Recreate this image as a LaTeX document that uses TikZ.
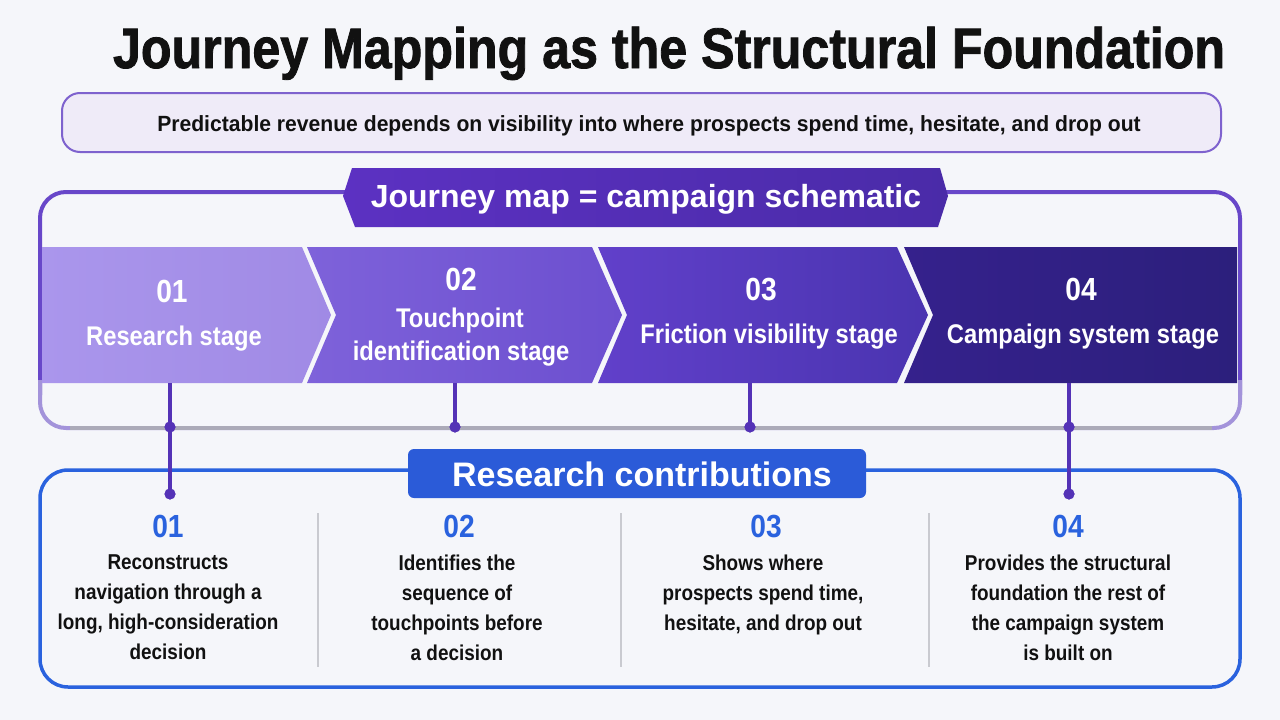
\documentclass[tikz,border=0pt]{standalone}
\usepackage{fontspec}
\setmainfont{Liberation Sans}[FakeStretch=0.88]
\newfontfamily\titlef{Liberation Sans}[FakeStretch=0.88, FakeBold=1.4]
\newfontfamily\subf{Liberation Sans}[FakeStretch=0.96]
\newfontfamily\widef{Liberation Sans}[FakeStretch=1.0]
\newfontfamily\chevf{Liberation Sans}[FakeStretch=0.88]
\definecolor{bg}{HTML}{F5F6FA}
\definecolor{titlec}{HTML}{111111}
\definecolor{subfill}{HTML}{EFEBF8}
\definecolor{subdraw}{HTML}{7E62CE}
\definecolor{framep}{HTML}{6847C9}
\definecolor{framel}{HTML}{A393DA}
\definecolor{frameg}{HTML}{ABAAB8}
\definecolor{badgeL}{HTML}{5C31C2}
\definecolor{badgeR}{HTML}{4A2BA8}
\definecolor{chA1}{HTML}{AA96EC}
\definecolor{chA2}{HTML}{A08AE5}
\definecolor{chB1}{HTML}{7E62DA}
\definecolor{chB2}{HTML}{6C4FCF}
\definecolor{chC1}{HTML}{6140CA}
\definecolor{chC2}{HTML}{4A34B0}
\definecolor{chD1}{HTML}{35218C}
\definecolor{chD2}{HTML}{2C1F7C}
\definecolor{conn}{HTML}{5432B6}
\definecolor{blue}{HTML}{2A62DE}
\definecolor{blueb}{HTML}{2B5BD8}
\definecolor{sep}{HTML}{C9CAD0}
\definecolor{bodyc}{HTML}{111111}
\tikzset{
  chevtext/.style={text=white, font=\chevf\bfseries\fontsize{27}{31}\selectfont, align=center, inner sep=0},
  chevnum/.style={text=white, font=\chevf\bfseries\fontsize{32}{34}\selectfont, inner sep=0},
  bluenum/.style={text=blue, font=\chevf\bfseries\fontsize{32}{34}\selectfont, inner sep=0},
  bodytext/.style={text=bodyc, font=\bfseries\fontsize{21.5}{30}\selectfont, align=center, inner sep=0, anchor=north},
  connline/.style={draw=conn, line width=3.2},
  dot/.style={circle, fill=conn, inner sep=0, minimum size=11},
  seprule/.style={draw=sep, line width=1.6},
}
\begin{document}
\begin{tikzpicture}[x=1pt,y=-1pt]
\useasboundingbox (0,0) rectangle (1280,720);
\fill[bg] (0,0) rectangle (1280,720);

% title
\node[anchor=base, text=titlec, inner sep=0, font=\titlef\bfseries\fontsize{57}{60}\selectfont] (title) at (669,68) {Journey Mapping as the Structural Foundation};

% subtitle box
\draw[fill=subfill, draw=subdraw, line width=2, rounded corners=18] (62,93) rectangle (1221,152);
\node[anchor=base, inner sep=0, text=bodyc, font=\subf\bfseries\fontsize{22}{24}\selectfont] (sub) at (649,131) {Predictable revenue depends on visibility into where prospects spend time, hesitate, and drop out};

% purple frame
\draw[draw=framep, line width=4, rounded corners=26] (40,395) -- (40,192) -- (1240,192) -- (1240,395);
\draw[draw=framel, line width=4, rounded corners=26] (40,380) -- (40,428) -- (1240,428) -- (1240,380);
\draw[draw=frameg, line width=4] (70,428) -- (1212,428);

% chevrons
\path[left color=chA1, right color=chA2] (42,247) -- (302,247) -- (331,315) -- (302,383) -- (42,383) -- cycle;
\path[left color=chB1, right color=chB2] (307,247) -- (592,247) -- (622,315) -- (592,383) -- (307,383) -- (336,315) -- cycle;
\path[left color=chC1, right color=chC2] (598,247) -- (897,247) -- (928,315) -- (897,383) -- (598,383) -- (627,315) -- cycle;
\path[left color=chD1, right color=chD2] (904,247) -- (1237,247) -- (1237,383) -- (904,383) -- (933,315) -- cycle;

% badge on frame
\path[left color=badgeL, right color=badgeR] (352,168) -- (940,168) -- (948,196) -- (938,227) -- (355,227) -- (343,196) -- cycle;
\node[anchor=base, text=white, inner sep=0, font=\widef\bfseries\fontsize{32}{34}\selectfont] (badge) at (646,207) {Journey map = campaign schematic};

% chevron texts
\node[chevnum, anchor=base] (n1) at (172,302) {01};
\node[chevtext, anchor=base] (s1) at (174,345) {Research stage};
\node[chevnum, anchor=base] (n2) at (461,290) {02};
\node[chevtext, anchor=base] (s2a) at (460,327) {Touchpoint};
\node[chevtext, anchor=base] (s2b) at (461,360) {identification stage};
\node[chevnum, anchor=base] (n3) at (761,300) {03};
\node[chevtext, anchor=base] (s3) at (769,343) {Friction visibility stage};
\node[chevnum, anchor=base] (n4) at (1081,300) {04};
\node[chevtext, anchor=base] (s4) at (1083,343) {Campaign system stage};

% blue box
\draw[draw=blue, line width=3.5, rounded corners=28, fill=bg] (40,470) rectangle (1240,687);
\draw[fill=blueb, draw=none, rounded corners=6] (408,449) rectangle (866,498);
\node[anchor=base, text=white, inner sep=0, font=\widef\bfseries\fontsize{34}{36}\selectfont] (rc) at (642,486) {Research contributions};

% connectors
\coordinate (c1) at (170,383); \coordinate (c2) at (455,383);
\coordinate (c3) at (750,383); \coordinate (c4) at (1069,383);
\node[dot] (d1) at (170,427) {}; \node[dot] (d2) at (455,427) {};
\node[dot] (d3) at (750,427) {}; \node[dot] (d4) at (1069,427) {};
\node[dot] (e1) at (170,494) {}; \node[dot] (e4) at (1069,494) {};
\draw[connline] (c1) -- (d1.center); \draw[connline] (d1.center) -- (e1.center);
\draw[connline] (c2) -- (d2.center);
\draw[connline] (c3) -- (d3.center);
\draw[connline] (c4) -- (d4.center); \draw[connline] (d4.center) -- (e4.center);
\fill[conn] (d1) circle (5.5); \fill[conn] (d2) circle (5.5);
\fill[conn] (d3) circle (5.5); \fill[conn] (d4) circle (5.5);
\fill[conn] (e1) circle (5.5); \fill[conn] (e4) circle (5.5);

% separators
\coordinate (p1t) at (318,513); \coordinate (p1b) at (318,667);
\coordinate (p2t) at (621,513); \coordinate (p2b) at (621,667);
\coordinate (p3t) at (929,513); \coordinate (p3b) at (929,667);
\draw[seprule] (p1t) -- (p1b);
\draw[seprule] (p2t) -- (p2b);
\draw[seprule] (p3t) -- (p3b);

% columns
\node[bluenum, anchor=base] (b1) at (168,537) {01};
\node[bluenum, anchor=base] (b2) at (459,537) {02};
\node[bluenum, anchor=base] (b3) at (766,537) {03};
\node[bluenum, anchor=base] (b4) at (1068,537) {04};
\node[bodytext] (t1) at (168,555) {Reconstructs\\navigation through a\\long, high-consideration\\decision};
\node[bodytext] (t2) at (457,555) {Identifies the\\sequence of\\touchpoints before\\a decision};
\node[bodytext] (t3) at (763,555) {Shows where\\prospects spend time,\\hesitate, and drop out};
\node[bodytext] (t4) at (1068,555) {Provides the structural\\foundation the rest of\\the campaign system\\is built on};
\end{tikzpicture}
\end{document}
